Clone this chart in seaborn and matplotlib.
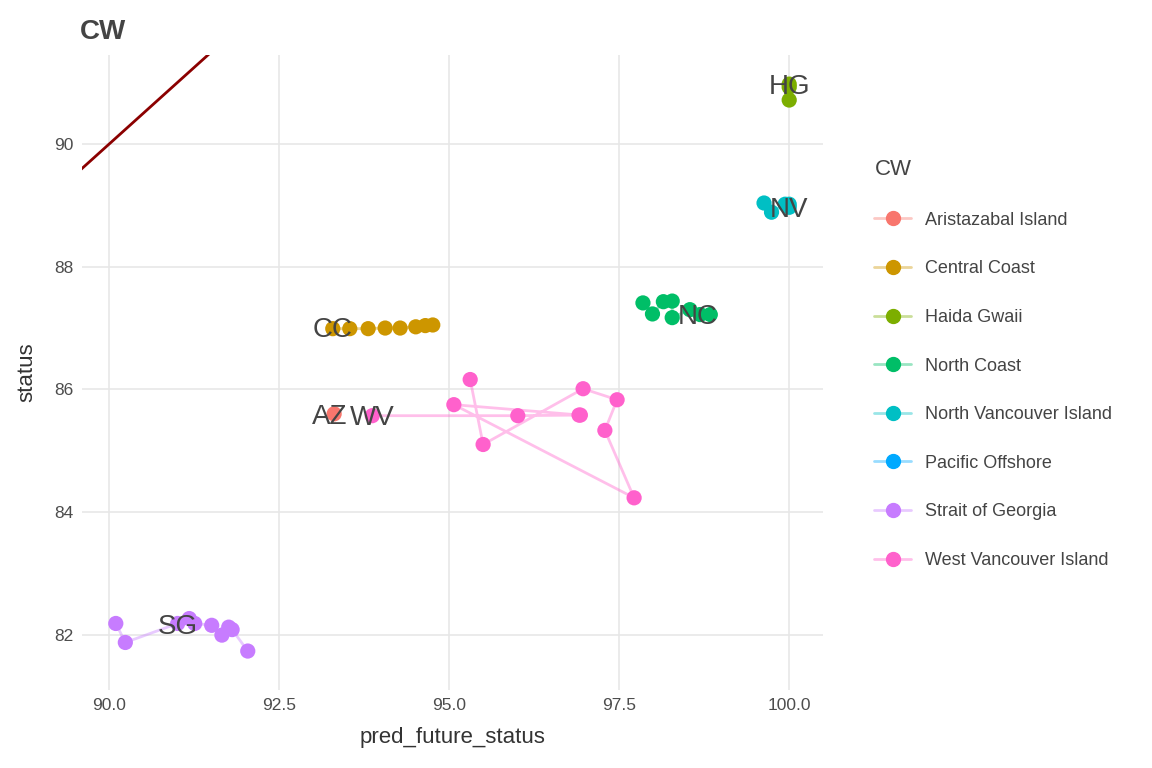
import matplotlib
matplotlib.use("Agg")
import matplotlib.pyplot as plt
import matplotlib.colors as mc
import seaborn as sns
import pandas as pd
from matplotlib.lines import Line2D

regions = ["Aristazabal Island", "Central Coast", "Haida Gwaii", "North Coast",
           "North Vancouver Island", "Pacific Offshore", "Strait of Georgia", "West Vancouver Island"]
colors = ["#F8766D", "#CD9600", "#7CAE00", "#00BE67", "#00BFC4", "#00A9FF", "#C77CFF", "#FF61CC"]

az_x = [93.31]; az_y = [85.60]
cc_x = [93.29, 93.54, 93.81, 94.06, 94.28, 94.51, 94.65, 94.76]
cc_y = [86.99, 86.99, 86.99, 87.00, 87.00, 87.02, 87.04, 87.05]
hg_x = [100.0, 100.0, 100.0]; hg_y = [90.98, 90.93, 90.72]
nc_x = [97.85, 97.99, 98.15, 98.28, 98.28, 98.54, 98.69, 98.84]
nc_y = [87.41, 87.23, 87.43, 87.44, 87.17, 87.30, 87.22, 87.22]
nv_x = [99.63, 99.74, 99.94, 100.0, 100.0]; nv_y = [89.04, 88.89, 89.02, 89.02, 88.97]
sg_x = [90.10, 90.24, 91.01, 91.18, 91.26, 91.51, 91.66, 91.76, 91.81, 92.04]
sg_y = [82.18, 81.87, 82.18, 82.26, 82.18, 82.15, 81.99, 82.12, 82.08, 81.73]
wv_x = [93.87, 96.01, 96.91, 96.93, 95.07, 97.72, 97.29, 97.47, 96.97, 95.50, 95.31]
wv_y = [85.57, 85.57, 85.58, 85.58, 85.75, 84.23, 85.33, 85.83, 86.01, 85.10, 86.16]

series = {"Aristazabal Island": (az_x, az_y), "Central Coast": (cc_x, cc_y), "Haida Gwaii": (hg_x, hg_y),
          "North Coast": (nc_x, nc_y), "North Vancouver Island": (nv_x, nv_y),
          "Strait of Georgia": (sg_x, sg_y), "West Vancouver Island": (wv_x, wv_y)}
label_pos = {"AZ": (93.25, 85.55), "CC": (93.29, 86.96), "HG": (100.0, 90.93), "NC": (98.66, 87.18),
             "NV": (100.0, 88.92), "SG": (91.01, 82.12), "WV": (93.87, 85.53)}

rows = []
for r, (xs, ys) in series.items():
    for i, (x, y) in enumerate(zip(xs, ys)):
        rows.append({"CW": r, "pred_future_status": x, "status": y, "i": i})
df = pd.DataFrame(rows)
pal = dict(zip(regions, colors))

sns.set_theme(style="whitegrid")
plt.rcParams["font.family"] = ["Liberation Sans", "DejaVu Sans"]
fig, ax = plt.subplots(figsize=(11.52, 7.68), dpi=100)
fig.subplots_adjust(left=0.071, right=0.714, top=0.928, bottom=0.102)

sns.lineplot(data=df, x="pred_future_status", y="status", hue="CW", palette=pal, sort=False,
             estimator=None, units="CW", alpha=0.4, lw=2, legend=False, ax=ax)
sns.scatterplot(data=df, x="pred_future_status", y="status", hue="CW", palette=pal, s=120,
                edgecolor="none", legend=False, ax=ax, zorder=3)
ax.plot([89.0, 92.0], [89.0, 92.0], color="#8B0000", lw=2, zorder=2)
for t, (x, y) in label_pos.items():
    ax.text(x, y, t, ha="center", va="center", fontsize=20, color="#444444", zorder=4)

ax.set_xlim(89.6, 100.49)
ax.set_ylim(81.1, 91.45)
ax.set_xticks([90, 92.5, 95, 97.5, 100])
ax.set_xticklabels(["90.0", "92.5", "95.0", "97.5", "100.0"])
ax.set_yticks([82, 84, 86, 88, 90])
ax.tick_params(labelsize=12.5, colors="#4d4d4d", length=0, pad=6)
ax.set_xlabel("pred_future_status", fontsize=16, color="#333333", labelpad=10)
ax.set_ylabel("status", fontsize=16, color="#333333", labelpad=12)
for s in ax.spines.values():
    s.set_visible(False)
ax.grid(color="#e6e6e6", lw=1.1)
ax.set_facecolor("white")
ax.set_title("CW", loc="left", fontsize=20, fontweight="bold", color="#444444", x=-0.003, pad=12)

handles = [Line2D([], [], color=c, marker="o", markersize=10, lw=2) for c in colors]
leg = fig.legend(handles, regions, title="CW", loc="center left", bbox_to_anchor=(0.745, 0.526),
                 frameon=False, fontsize=13, title_fontsize=16, labelspacing=1.75,
                 handlelength=2.0, alignment="left")
for line, c in zip(leg.get_lines(), colors):
    r, g, b = mc.to_rgb(c)
    line.set_color((r, g, b, 0.4))
    line.set_markerfacecolor(c)
    line.set_markeredgecolor(c)
for t in leg.get_texts():
    t.set_color("#444444")
leg.get_title().set_color("#444444")

fig.savefig("out.png", dpi=100)
